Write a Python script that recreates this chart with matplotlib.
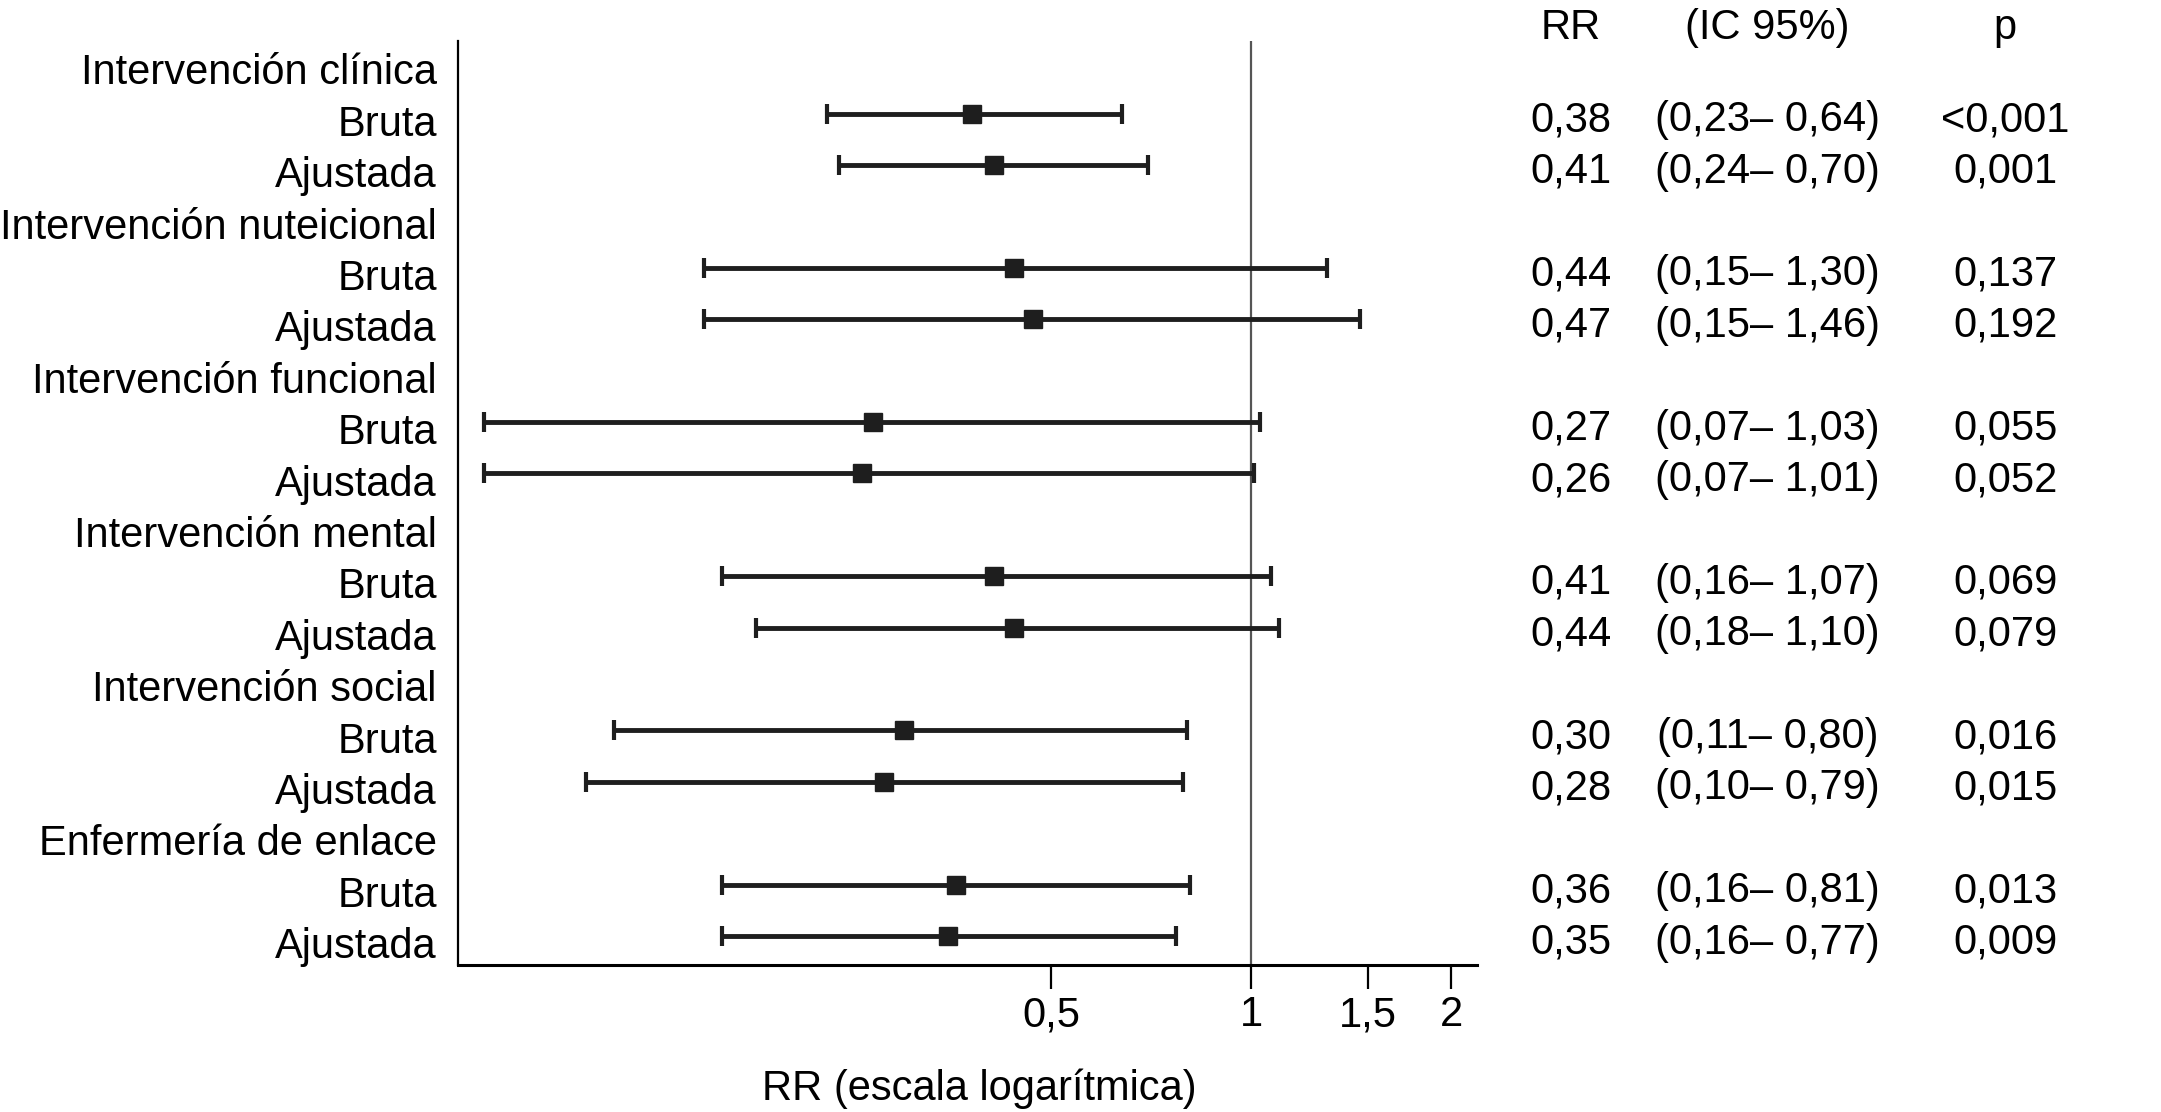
import matplotlib
matplotlib.use("Agg")
import matplotlib.pyplot as plt
from matplotlib.transforms import blended_transform_factory

# datos del gráfico
grupos = ["Intervención clínica", "Intervención nuteicional", "Intervención funcional",
          "Intervención mental", "Intervención social", "Enfermería de enlace"]
tipos = ["Bruta", "Ajustada"]
rr = [0.38, 0.41, 0.44, 0.47, 0.27, 0.26, 0.41, 0.44, 0.30, 0.28, 0.36, 0.35]
ic_inf = [0.23, 0.24, 0.15, 0.15, 0.07, 0.07, 0.16, 0.18, 0.11, 0.10, 0.16, 0.16]
ic_sup = [0.64, 0.70, 1.30, 1.46, 1.03, 1.01, 1.07, 1.10, 0.80, 0.79, 0.81, 0.77]
p_txt = ["<0,001", "0,001", "0,137", "0,192", "0,055", "0,052",
         "0,069", "0,079", "0,016", "0,015", "0,013", "0,009"]
xticks = [0.5, 1, 1.5, 2]
xtick_labels = ["0,5", "1", "1,5", "2"]

plt.rcParams['font.family'] = ['Liberation Sans', 'DejaVu Sans']
FS = 30

fig = plt.figure(figsize=(21.61, 11.12), dpi=100)
ax = fig.add_axes([0.2118, 0.1324, 0.4718, 0.8306])

# filas: cabecera de grupo + Bruta + Ajustada
etiquetas = []
y_barras = []
for i, g in enumerate(grupos):
    etiquetas += [g] + tipos
    y_barras += [i * 3 + 1, i * 3 + 2]

fmt = lambda v: f"{v:.2f}".replace(".", ",")

for k, y in enumerate(y_barras):
    yb = y - 0.13
    ax.errorbar(rr[k], yb, xerr=[[rr[k] - ic_inf[k]], [ic_sup[k] - rr[k]]],
                fmt='s', color='#1e1e1e', ms=13, elinewidth=3.5, capsize=7.5,
                capthick=3, zorder=3)

ax.axvline(1, color='#555555', lw=1.6, zorder=1)

ax.set_xscale('log')
ax.set_xlim(0.064, 2.19)
ax.set_ylim(17.43, -0.54)
ax.set_xticks(xticks)
ax.set_xticklabels(xtick_labels, fontsize=FS)
ax.minorticks_off()
ax.tick_params(axis='x', length=17, width=1.6, pad=5)
ax.set_yticks(range(len(etiquetas)))
ax.set_yticklabels(etiquetas, fontsize=FS)
ax.tick_params(axis='y', length=0, pad=15)
ax.spines['top'].set_visible(False)
ax.spines['right'].set_visible(False)
ax.spines['left'].set_linewidth(1.6)
ax.spines['bottom'].set_linewidth(2.2)
ax.set_xlabel("RR (escala logarítmica)", fontsize=FS, va='center')
ax.xaxis.set_label_coords(0.512, -0.134)

# columnas de texto a la derecha
tr = blended_transform_factory(fig.transFigure, ax.transData)
x_rr, x_ic, x_p = 0.727, 0.818, 0.928
ax.text(x_rr, -0.8, "RR", transform=tr, fontsize=FS, ha='center', va='center')
ax.text(x_ic, -0.8, "(IC 95%)", transform=tr, fontsize=FS, ha='center', va='center')
ax.text(x_p, -0.8, "p", transform=tr, fontsize=FS, ha='center', va='center')
for k, y in enumerate(y_barras):
    ax.text(x_rr, y, fmt(rr[k]), transform=tr, fontsize=FS, ha='center', va='center')
    ax.text(x_ic, y, f"({fmt(ic_inf[k])}\u2013 {fmt(ic_sup[k])})", transform=tr,
            fontsize=FS, ha='center', va='center')
    ax.text(x_p, y, p_txt[k], transform=tr, fontsize=FS, ha='center', va='center')

fig.savefig("out.png", dpi=100)
